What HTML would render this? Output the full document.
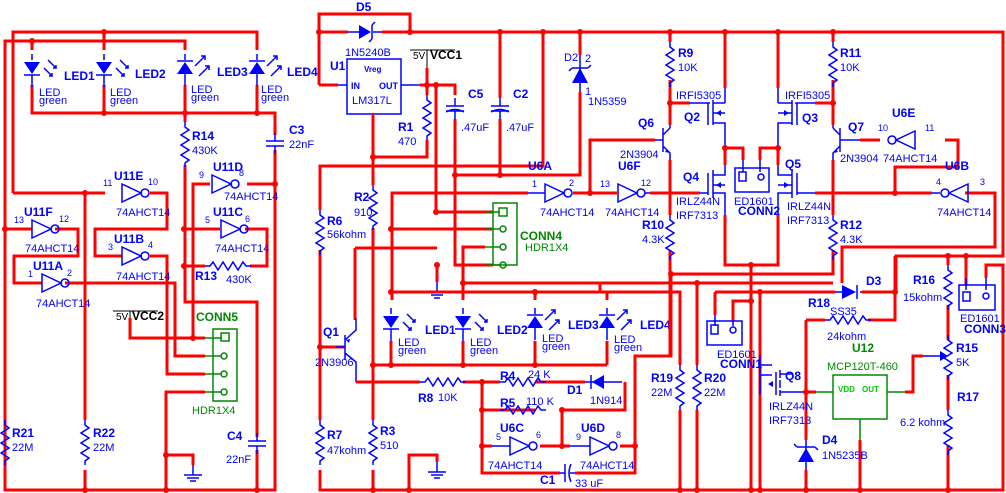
<!DOCTYPE html>
<html><head><meta charset="utf-8"><style>
html,body{margin:0;padding:0;background:#fff}
svg{display:block}
text{font-family:"Liberation Sans",Arial,sans-serif;fill:#00f}
.b{font-weight:bold;font-size:12px}
.n{font-size:11px}
.s{font-size:9px}
.g{fill:#080}
.w{stroke:#f00;stroke-width:3;fill:none}
.c{stroke:#00f;stroke-width:1.5;fill:none}
.gc{stroke:#080;stroke-width:1.5;fill:none}
</style></head><body>
<svg width="1006" height="493" viewBox="0 0 1006 493" xmlns="http://www.w3.org/2000/svg">
<defs>
<g id="rv"><path d="M0,0 v5 l4,3 l-8,5 l8,5 l-8,5 l8,5 l-8,5 l8,5 l-4,3 v4" class="c"/></g>
<g id="rh"><path d="M0,0 h5 l3,-4 l5,8 l5,-8 l5,8 l5,-8 l5,8 l5,-8 l3,4 h5" class="c"/></g>
<g id="invr"><path d="M0,-9 L19,0 L0,9 Z" class="c"/><circle cx="23" cy="0" r="4" class="c"/></g>
<g id="invl"><path d="M0,-9 L-19,0 L0,9 Z" class="c"/><circle cx="-23" cy="0" r="4" class="c"/></g>
<g id="ledd"><path d="M-8,-6 h16 l-8,12 z" fill="#00f"/><path d="M-8,7 h16" class="c"/><path d="M0,-14 v6 M0,7 v12" class="c"/><path d="M16,-8 l8,8 m-3,0 h3 v-3 M12,0 l8,8 m-3,0 h3 v-3" class="c" stroke-width="1"/></g>
<g id="ledu"><path d="M-8,6 h16 l-8,-12 z" fill="#00f"/><path d="M-8,-7 h16" class="c"/><path d="M0,-14 v6 M0,6 v12" class="c"/><path d="M10,-2 l10,-10 m-4,0 h4 v4 M14,8 l10,-10 m-4,0 h4 v4" class="c" stroke-width="1"/></g>
<g id="capv"><path d="M0,-10 v8 M-9,-2 h18 M-9,3 h18 M0,3 v8" class="c" stroke-width="2"/></g>
<g id="gnd"><path d="M0,0 v10 M-9,10 h18 M-6,13 h12 M-3,16 h6" class="c" stroke="#000" stroke-width="1"/></g>
<g id="pmos"><path d="M0,-8 v16 M5,-12 v6 M5,-3 v6 M5,6 v6 M5,-9 h12 v-12 M5,9 h12 v12 M5,0 h12 v-9" class="c"/><path d="M6,0 l5,-3 v6 z" fill="#00f"/></g>
</defs>

<!-- ============ LEFT SECTION ============ -->
<path class="w" d="M13,193 V32 H257 V50 M5,490 V41 H185 V50 M32,41 V50 M104,32 V50"/>
<path class="w" d="M32,85 V113 H275 V135 M104,85 V113 M185,85 V113 M257,85 V113 M275,150 V490 H5 V470 M5,420 V229 H32"/>
<path class="w" d="M185,113 V122 M185,165 V302 H257 V437 M257,450 V490"/>
<path class="w" d="M13,193 H105 M85,193 V420 M85,470 V490 M150,193 H167 V229 H95 V256 H122 M150,256 H167 V374 H205"/>
<path class="w" d="M55,229 H78 V256 H14 V283 H42 M65,283 H175 V356 H205"/>
<path class="w" d="M193,338 V184 H210 M247,184 H275 M184,229 H220 M245,229 H267 V266 H250 M205,266 H184"/>
<path class="w" d="M130,318 V338 H205 M205,392 H166 V490 M166,455 H193 V465"/>
<g fill="#f00"><circle cx="104" cy="32" r="3"/><circle cx="32" cy="41" r="3"/><circle cx="104" cy="113" r="3"/><circle cx="185" cy="113" r="3"/><circle cx="257" cy="113" r="3"/><circle cx="85" cy="193" r="3"/><circle cx="5" cy="229" r="3"/><circle cx="275" cy="184" r="3"/><circle cx="184" cy="229" r="3"/><circle cx="184" cy="266" r="3"/><circle cx="193" cy="338" r="3"/><circle cx="166" cy="455" r="3"/><circle cx="85" cy="490" r="3"/><circle cx="166" cy="490" r="3"/><circle cx="257" cy="490" r="3"/></g>
<use href="#ledd" x="32" y="68"/><use href="#ledd" x="104" y="68"/><use href="#ledu" x="185" y="68"/><use href="#ledu" x="257" y="68"/>
<text class="b" x="64" y="80">LED1</text><text class="b" x="135" y="78">LED2</text><text class="b" x="217" y="76">LED3</text><text class="b" x="287" y="76">LED4</text>
<text class="n" x="39" y="96">LED</text><text class="n" x="39" y="104">green</text>
<text class="n" x="110" y="96">LED</text><text class="n" x="110" y="104">green</text>
<text class="n" x="191" y="93">LED</text><text class="n" x="191" y="101">green</text>
<text class="n" x="261" y="93">LED</text><text class="n" x="261" y="101">green</text>
<use href="#rv" x="185" y="122"/><text class="b" x="192" y="140">R14</text><text class="n" x="192" y="154">430K</text>
<use href="#capv" x="275" y="143"/><text class="b" x="289" y="134">C3</text><text class="n" x="289" y="148">22nF</text>
<use href="#invr" x="122" y="193"/><text class="b" x="114" y="180">U11E</text><text class="s" x="103" y="186">11</text><text class="s" x="148" y="185">10</text><text class="n" x="116" y="216">74AHCT14</text>
<use href="#invr" x="32" y="229"/><text class="b" x="24" y="216">U11F</text><text class="s" x="14" y="223">13</text><text class="s" x="59" y="222">12</text><text class="n" x="25" y="252">74AHCT14</text>
<use href="#invr" x="122" y="256"/><text class="b" x="114" y="243">U11B</text><text class="s" x="108" y="250">3</text><text class="s" x="148" y="248">4</text><text class="n" x="116" y="280">74AHCT14</text>
<use href="#invr" x="42" y="283"/><text class="b" x="33" y="270">U11A</text><text class="s" x="28" y="277">1</text><text class="s" x="67" y="276">2</text><text class="n" x="36" y="307">74AHCT14</text>
<use href="#invr" x="212" y="184"/><text class="b" x="213" y="171">U11D</text><text class="s" x="199" y="178">9</text><text class="s" x="239" y="176">8</text><text class="n" x="224" y="200">74AHCT14</text>
<use href="#invr" x="221" y="229"/><text class="b" x="213" y="216">U11C</text><text class="s" x="205" y="223">5</text><text class="s" x="245" y="222">6</text><text class="n" x="215" y="252">74AHCT14</text>
<use href="#rh" x="205" y="266"/><text class="b" x="195" y="280">R13</text><text class="n" x="226" y="283">430K</text>
<path d="M113,311 H158 M130,311 V318" stroke="#000" stroke-width="1"/><text x="116" y="320" style="font-size:10px;fill:#000">5V</text><text x="132" y="320" style="font-size:12px;font-weight:bold;fill:#000">VCC2</text>
<text class="b g" x="196" y="321">CONN5</text>
<rect x="213" y="329" width="24" height="72" class="gc"/>
<path class="gc" d="M205,338 H222 M205,356 H222 M205,374 H222 M205,392 H222"/>
<rect x="221" y="333" width="8" height="8" class="gc" stroke-width="2"/><circle cx="224" cy="356" r="3" class="gc"/><circle cx="224" cy="374" r="3" class="gc"/><circle cx="224" cy="392" r="3" class="gc"/>
<text class="n g" x="192" y="414">HDR1X4</text>
<use href="#rv" x="5" y="420"/><text class="b" x="12" y="437">R21</text><text class="n" x="12" y="451">22M</text>
<use href="#rv" x="85" y="420"/><text class="b" x="93" y="437">R22</text><text class="n" x="93" y="451">22M</text>
<use href="#capv" x="257" y="443"/><text class="b" x="227" y="440">C4</text><text class="n" x="226" y="463">22nF</text>
<use href="#gnd" x="193" y="465"/>

<!-- ============ MIDDLE SECTION ============ -->
<path class="w" d="M319,85 V14 H410 V32 M319,32 H348 M382,32 H1003 V256 H896 V292 M319,85 H338"/>
<path d="M338,85 H347 M401,85 H420" class="c"/>
<rect x="347" y="59" width="54" height="55" class="c"/>
<text x="364" y="72" style="font-size:8px;font-weight:bold;fill:#00f">Vreg</text><text x="351" y="89" class="s" font-weight="bold">IN</text><text x="379" y="89" class="s" font-weight="bold">OUT</text><text class="n" x="352" y="104">LM317L</text>
<text class="b" x="330" y="70">U1</text><text class="n" x="345" y="56">1N5240B</text><text class="b" x="356" y="11">D5</text>
<path d="M348,32 H359 M373,32 H382" class="c"/><path d="M359,25 L371,32 L359,39 Z" fill="#00f"/><path d="M372,25 V39 M372,25 l3,-3 M372,39 l-3,3" class="c" stroke-width="2"/>
<path d="M410,50 H455 M427,50 V68" stroke="#000" stroke-width="1"/><text x="413" y="59" style="font-size:10px;fill:#000">5V</text><text x="430" y="59" style="font-size:12px;font-weight:bold;fill:#000">VCC1</text>
<path class="w" d="M427,68 V95 M420,85 H455 V95 M436,85 V212 H493"/>
<use href="#rv" x="427" y="95"/><path class="w" d="M427,140 V157 H373"/><text class="b" x="398" y="131">R1</text><text class="n" x="398" y="145">470</text>
<path class="w" d="M373,114 V185 M373,228 V420 M373,470 V490"/>
<use href="#rv" x="373" y="185"/><text class="b" x="354" y="201">R2</text><text class="n" x="354" y="216">910</text>
<use href="#capv" x="455" y="108"/><path d="M446,112 q9,-5 18,0" class="c"/><text class="b" x="468" y="98">C5</text><text class="n" x="461" y="131">.47uF</text>
<use href="#capv" x="500" y="108"/><path d="M491,112 q9,-5 18,0" class="c"/><text class="b" x="513" y="98">C2</text><text class="n" x="506" y="131">.47uF</text>
<path class="w" d="M455,119 V265 H493 M500,32 V98 M500,119 V175 M455,175 H580 V92 M580,32 V55"/>
<path class="w" d="M543,32 V166 H320 V210 M320,250 V420 M320,470 V490 H1003 V265 H986 V278"/>
<path d="M580,55 V92" class="c"/><path d="M572,83 L580,68 L588,83 Z" fill="#00f"/><path d="M572,68 H588 M572,68 l-3,3 M588,68 l3,-3" class="c" stroke-width="2"/>
<text class="n" x="564" y="61">D2</text><text class="n" x="585" y="62">2</text><text class="n" x="585" y="95">1</text><text class="n" x="588" y="105">1N5359</text>
<use href="#rv" x="320" y="210"/><text class="b" x="327" y="225">R6</text><text class="n" x="327" y="238">56kohm</text>
<path class="w" d="M392,292 V193 H528 M392,229 H493"/><path d="M528,193 H545" class="c"/>
<use href="#invr" x="545" y="193"/><text class="b" x="528" y="170">U6A</text><text class="s" x="532" y="187">1</text><text class="s" x="569" y="186">2</text><text class="n" x="540" y="216">74AHCT14</text>
<path class="w" d="M573,193 H617 M590,193 V140 H640 M640,140 H655"/>
<use href="#invr" x="618" y="193"/><text class="b" x="618" y="170">U6F</text><text class="s" x="600" y="187">13</text><text class="s" x="641" y="186">12</text><text class="n" x="605" y="216">74AHCT14</text>
<path class="w" d="M650,193 H700"/><path d="M645,193 H650" class="c"/>
<text class="n" x="620" y="158">2N3904</text><text class="b" x="638" y="127">Q6</text>
<text class="b g" x="520" y="240">CONN4</text>
<rect x="493" y="203" width="24" height="62" class="gc"/>
<path class="gc" d="M485,212 H500 M485,229 H500 M485,247 H500 M485,265 H500"/>
<rect x="499" y="208" width="8" height="8" class="gc" stroke-width="2"/><circle cx="503" cy="229" r="3" class="gc"/><circle cx="503" cy="247" r="3" class="gc"/><circle cx="503" cy="265" r="3" class="gc"/>
<text class="n g" x="525" y="251">HDR1X4</text>
<path class="w" d="M437,265 V282 M355,248 H437 M463,283 V247 H485 M463,283 H833"/>
<use href="#gnd" x="437" y="282"/>
<path class="w" d="M391,292 H660 M392,292 V300 M463,283 V300 M535,292 V300 M607,292 V300"/>
<use href="#ledd" x="391" y="322"/><use href="#ledd" x="463" y="322"/><use href="#ledu" x="535" y="322"/><use href="#ledu" x="607" y="322"/>
<text class="b" x="425" y="334">LED1</text><text class="b" x="497" y="334">LED2</text><text class="b" x="568" y="329">LED3</text><text class="b" x="640" y="329">LED4</text>
<text class="n" x="398" y="346">LED</text><text class="n" x="398" y="354">green</text><text class="n" x="470" y="346">LED</text><text class="n" x="470" y="354">green</text>
<text class="n" x="542" y="342">LED</text><text class="n" x="542" y="350">green</text><text class="n" x="614" y="343">LED</text><text class="n" x="614" y="351">green</text>
<path class="w" d="M391,341 V365 M463,341 V365 M535,341 V365 M607,341 V365 M373,365 H607"/>
<path class="w" d="M355,248 V320 M320,347 H345"/>
<path d="M345,335 V360 M345,340 L356,330 V318 M345,353 L356,362 V382 M345,347 H336" class="c"/><path d="M346,340 l4,-1 l-1,4 z" fill="#00f"/>
<text class="b" x="323" y="336">Q1</text><text class="n" x="315" y="366">2N3906</text>
<path class="w" d="M356,382 V382 H420 M463,382 H500 M535,382 H585 M625,382 V410 H562 M482,382 V473 H560 M575,473 H635 V446 M535,410 H482 M562,410 V446 M635,446 V356 H671 V274"/>
<use href="#rh" x="420" y="382"/><text class="b" x="418" y="402">R8</text><text class="n" x="438" y="401">10K</text>
<use href="#rh" x="500" y="382"/><text class="b" x="500" y="380">R4</text><text class="n" x="528" y="378">24 K</text>
<use href="#rh" x="500" y="410"/><text class="b" x="500" y="407">R5</text><text class="n" x="526" y="405">110 K</text>
<path d="M585,382 H622" class="c"/><path d="M604,375 L592,382 L604,389 Z" fill="#00f"/><path d="M591,375 V389" class="c" stroke-width="2"/>
<text class="b" x="567" y="394">D1</text><text class="n" x="590" y="404">1N914</text>
<path class="w" d="M482,446 H492 M540,446 H562 M562,446 H570 M620,446 H635"/>
<path d="M492,446 H510 M570,446 H590" class="c"/>
<use href="#invr" x="510" y="446"/><text class="b" x="500" y="432">U6C</text><text class="s" x="496" y="440">5</text><text class="s" x="536" y="438">6</text><text class="n" x="488" y="469">74AHCT14</text>
<use href="#invr" x="590" y="446"/><text class="b" x="581" y="432">U6D</text><text class="s" x="576" y="440">9</text><text class="s" x="616" y="438">8</text><text class="n" x="580" y="469">74AHCT14</text>
<path d="M560,473 H565 M565,464 V482 M571,464 q-4,9 0,18 M570,473 H575" class="c" stroke-width="2"/>
<text class="b" x="540" y="484">C1</text><text class="n" x="575" y="487">33 uF</text>
<use href="#rv" x="320" y="420"/><text class="b" x="327" y="439">R7</text><text class="n" x="327" y="454">47kohm</text>
<use href="#rv" x="373" y="420"/><text class="b" x="380" y="435">R3</text><text class="n" x="380" y="449">510</text>
<path class="w" d="M409,490 V455 H437 V462"/><use href="#gnd" x="437" y="462"/>
<g fill="#f00"><circle cx="319" cy="32" r="3"/><circle cx="410" cy="32" r="3"/><circle cx="500" cy="32" r="3"/><circle cx="543" cy="32" r="3"/><circle cx="580" cy="32" r="3"/><circle cx="427" cy="85" r="3"/><circle cx="436" cy="85" r="3"/><circle cx="373" cy="157" r="3"/><circle cx="455" cy="175" r="3"/><circle cx="500" cy="175" r="3"/><circle cx="590" cy="193" r="3"/><circle cx="436" cy="212" r="3"/><circle cx="391" cy="229" r="3"/><circle cx="437" cy="265" r="3"/><circle cx="463" cy="283" r="3"/><circle cx="391" cy="292" r="3"/><circle cx="535" cy="292" r="3"/><circle cx="373" cy="365" r="3"/><circle cx="391" cy="365" r="3"/><circle cx="463" cy="365" r="3"/><circle cx="535" cy="365" r="3"/><circle cx="320" cy="347" r="3"/><circle cx="482" cy="382" r="3"/><circle cx="482" cy="410" r="3"/><circle cx="562" cy="410" r="3"/><circle cx="482" cy="446" r="3"/><circle cx="562" cy="446" r="3"/><circle cx="635" cy="446" r="3"/><circle cx="373" cy="490" r="3"/><circle cx="409" cy="490" r="3"/></g>

<!-- ============ RIGHT SECTION ============ -->
<path class="w" d="M670,32 V42 M670,80 V103 H690 M670,103 V125 M670,160 V215 M670,250 V356 M725,32 V88 M778,32 V88 M833,32 V42 M833,80 V103 H815 M833,103 V125 M833,160 V215 M833,250 V274 H671"/>
<use href="#rv" x="670" y="42"/><text class="b" x="678" y="57">R9</text><text class="n" x="678" y="71">10K</text>
<use href="#rv" x="833" y="42"/><text class="b" x="840" y="57">R11</text><text class="n" x="840" y="71">10K</text>
<use href="#rv" x="670" y="215"/><text class="b" x="642" y="229">R10</text><text class="n" x="642" y="243">4.3K</text>
<use href="#rv" x="833" y="215"/><text class="b" x="840" y="229">R12</text><text class="n" x="840" y="243">4.3K</text>
<path d="M670,125 V128 M655,140 H663 M663,128 V152 M663,135 L670,128 M663,146 L670,153 V160" class="c"/><path d="M670,153 l-5,-1 l2,-3 z" fill="#00f"/>
<path d="M833,125 V128 M848,140 H840 M840,128 V152 M840,135 L833,128 M840,146 L833,153 V160" class="c"/><path d="M833,153 l5,-1 l-2,-3 z" fill="#00f"/>
<path d="M690,103 H710 M708,103 V125 M713,100 V125 M713,103 H725 M713,123 H725 V148 M713,113 H725 M725,88 V103" class="c"/><path d="M716,113 l5,-3 v6 z" fill="#00f"/>
<path d="M815,103 H795 M797,103 V125 M792,100 V125 M792,103 H778 M792,123 H778 V148 M792,113 H778 M778,88 V103" class="c"/><path d="M789,113 l-5,-3 v6 z" fill="#00f"/>
<text class="n" x="676" y="99">IRFI5305</text><text class="n" x="785" y="99">IRFI5305</text>
<text class="b" x="684" y="121">Q2</text><text class="b" x="802" y="122">Q3</text><text class="b" x="848" y="131">Q7</text><text class="n" x="840" y="162">2N3904</text>
<path class="w" d="M725,148 V165 M778,148 V165 M725,148 H743 V160 M778,148 H760 V160"/>
<rect x="735" y="168" width="34" height="24" class="c"/><path d="M743,160 V172 M760,160 V172" class="c"/><rect x="739" y="172" width="7" height="9" class="c" stroke-width="2"/><circle cx="761" cy="177" r="3" class="c"/>
<text class="n" x="734" y="205">ED1601</text><text class="b" x="738" y="215">CONN2</text>
<path d="M700,193 H708 M708,173 V195 M713,170 V198 M713,175 H725 V165 M713,193 H725 V215 M713,185 H725" class="c"/><path d="M716,185 l5,-3 v6 z" fill="#00f"/>
<path d="M815,193 H797 M797,173 V195 M792,170 V198 M792,175 H778 V165 M792,193 H778 V215 M792,185 H778" class="c"/><path d="M789,185 l-5,-3 v6 z" fill="#00f"/>
<text class="b" x="683" y="181">Q4</text><text class="b" x="785" y="168">Q5</text>
<text class="n" x="676" y="205">IRLZ44N</text><text class="n" x="676" y="219">IRF7313</text>
<text class="n" x="787" y="210">IRLZ44N</text><text class="n" x="787" y="224">IRF7313</text>
<path class="w" d="M725,215 V265 H778 V215 M751,265 V490 M815,193 H932 M895,193 V167 H958 V140 H945 M880,140 H860 M965,193 H995 V247 H842 V283"/>
<path d="M848,140 H860 M932,193 H940" class="c"/>
<use href="#invl" x="915" y="140"/><text class="b" x="892" y="117">U6E</text><text class="s" x="878" y="131">10</text><text class="s" x="925" y="131">11</text><text class="n" x="883" y="162">74AHCT14</text>
<use href="#invl" x="968" y="193"/><text class="b" x="945" y="170">U6B</text><text class="s" x="936" y="185">4</text><text class="s" x="980" y="185">3</text><text class="n" x="937" y="216">74AHCT14</text>
<path class="w" d="M600,292 V283 M660,292 H680 V365 M680,410 V490 M697,283 V365 M697,410 V490 M715,292 H835 M715,292 V315 M733,321 V301 H751 M760,292 V490 M862,292 H895 V256 M895,292 V320 H868 M806,320 H825 M806,320 V440 M806,470 V490"/>
<path d="M733,321 V326 M715,315 V326" class="c"/>
<rect x="707" y="321" width="35" height="24" class="c"/><rect x="711" y="325" width="7" height="9" class="c" stroke-width="2"/><circle cx="733" cy="330" r="3" class="c"/>
<text class="n" x="717" y="358">ED1601</text><text class="b" x="720" y="368">CONN1</text>
<use href="#rv" x="680" y="365"/><text class="b" x="651" y="382">R19</text><text class="n" x="651" y="396">22M</text>
<use href="#rv" x="697" y="365"/><text class="b" x="704" y="382">R20</text><text class="n" x="704" y="396">22M</text>
<path d="M835,292 H842 M860,292 H862" class="c"/><path d="M842,285 L856,292 L842,299 Z" fill="#00f"/><path d="M857,285 V299" class="c" stroke-width="2"/>
<text class="b" x="866" y="285">D3</text>
<use href="#rh" x="825" y="320"/><text class="b" x="808" y="307">R18</text><text class="n" x="830" y="315">SS35</text><text class="n" x="827" y="340">24kohm</text>
<path d="M760,355 V375 M760,365 H772 M772,375 H760 V395 M776,372 V395 M780,370 V378 M780,380 V388 M780,390 V396 M780,374 H792 M780,392 H806" class="c"/><path d="M768,384 l5,-3 v6 z" fill="#00f"/>
<text class="b" x="785" y="380">Q8</text><text class="n" x="769" y="410">IRLZ44N</text><text class="n" x="769" y="424">IRF7313</text>
<text class="b g" x="852" y="352">U12</text><text class="n g" x="827" y="370">MCP120T-460</text>
<rect x="833" y="375" width="54" height="44" class="gc"/><text x="838" y="392" style="font-size:8px;font-weight:bold;fill:#0c0">VDD</text><text x="862" y="392" style="font-size:8px;font-weight:bold;fill:#0c0">OUT</text>
<path class="gc" d="M806,392 H833 M887,392 H905 M860,419 V440"/>
<path class="w" d="M806,392 H816 M905,392 H913 V356 H923 M860,440 V490"/>
<path d="M923,356 H942" class="c"/><path d="M940,351 L948,356 L940,361 Z" fill="#00f"/>
<use href="#capv" x="0" y="0" style="display:none"/>
<path d="M806,440 V470" class="c"/><path d="M798,462 L806,448 L814,462 Z" fill="#00f"/><path d="M797,447 H815 M797,447 l-3,-3 M815,447 l3,3" class="c" stroke-width="2"/>
<text class="b" x="822" y="444">D4</text><text class="n" x="822" y="459">1N5235B</text>
<path class="w" d="M948,256 V265 M948,305 V340 M948,375 V410 M948,445 V490 M966,256 V285 M1003,265 V490"/>
<use href="#rv" x="948" y="265"/><text class="b" x="913" y="284">R16</text><text class="n" x="903" y="301">15kohm</text>
<use href="#rv" x="948" y="335"/><text class="b" x="956" y="352">R15</text><text class="n" x="956" y="366">5K</text>
<use href="#rv" x="948" y="410"/><text class="b" x="957" y="401">R17</text><text class="n" x="900" y="426">6.2 kohm</text>
<rect x="959" y="285" width="36" height="25" class="c"/><path d="M966,278 V290 M986,278 V290" class="c"/><rect x="963" y="292" width="7" height="9" class="c" stroke-width="2"/><circle cx="986" cy="296" r="3" class="c"/>
<text class="n" x="960" y="322">ED1601</text><text class="b" x="964" y="333">CONN3</text>
<g fill="#f00"><circle cx="670" cy="32" r="3"/><circle cx="725" cy="32" r="3"/><circle cx="778" cy="32" r="3"/><circle cx="833" cy="32" r="3"/><circle cx="670" cy="103" r="3"/><circle cx="833" cy="103" r="3"/><circle cx="725" cy="148" r="3"/><circle cx="778" cy="148" r="3"/><circle cx="895" cy="193" r="3"/><circle cx="751" cy="265" r="3"/><circle cx="671" cy="274" r="3"/><circle cx="697" cy="283" r="3"/><circle cx="751" cy="301" r="3"/><circle cx="760" cy="292" r="3"/><circle cx="895" cy="292" r="3"/><circle cx="948" cy="256" r="3"/><circle cx="966" cy="256" r="3"/><circle cx="806" cy="392" r="3"/><circle cx="680" cy="490" r="3"/><circle cx="697" cy="490" r="3"/><circle cx="751" cy="490" r="3"/><circle cx="760" cy="490" r="3"/><circle cx="806" cy="490" r="3"/><circle cx="860" cy="490" r="3"/><circle cx="948" cy="490" r="3"/></g>
</svg>
</body></html>
